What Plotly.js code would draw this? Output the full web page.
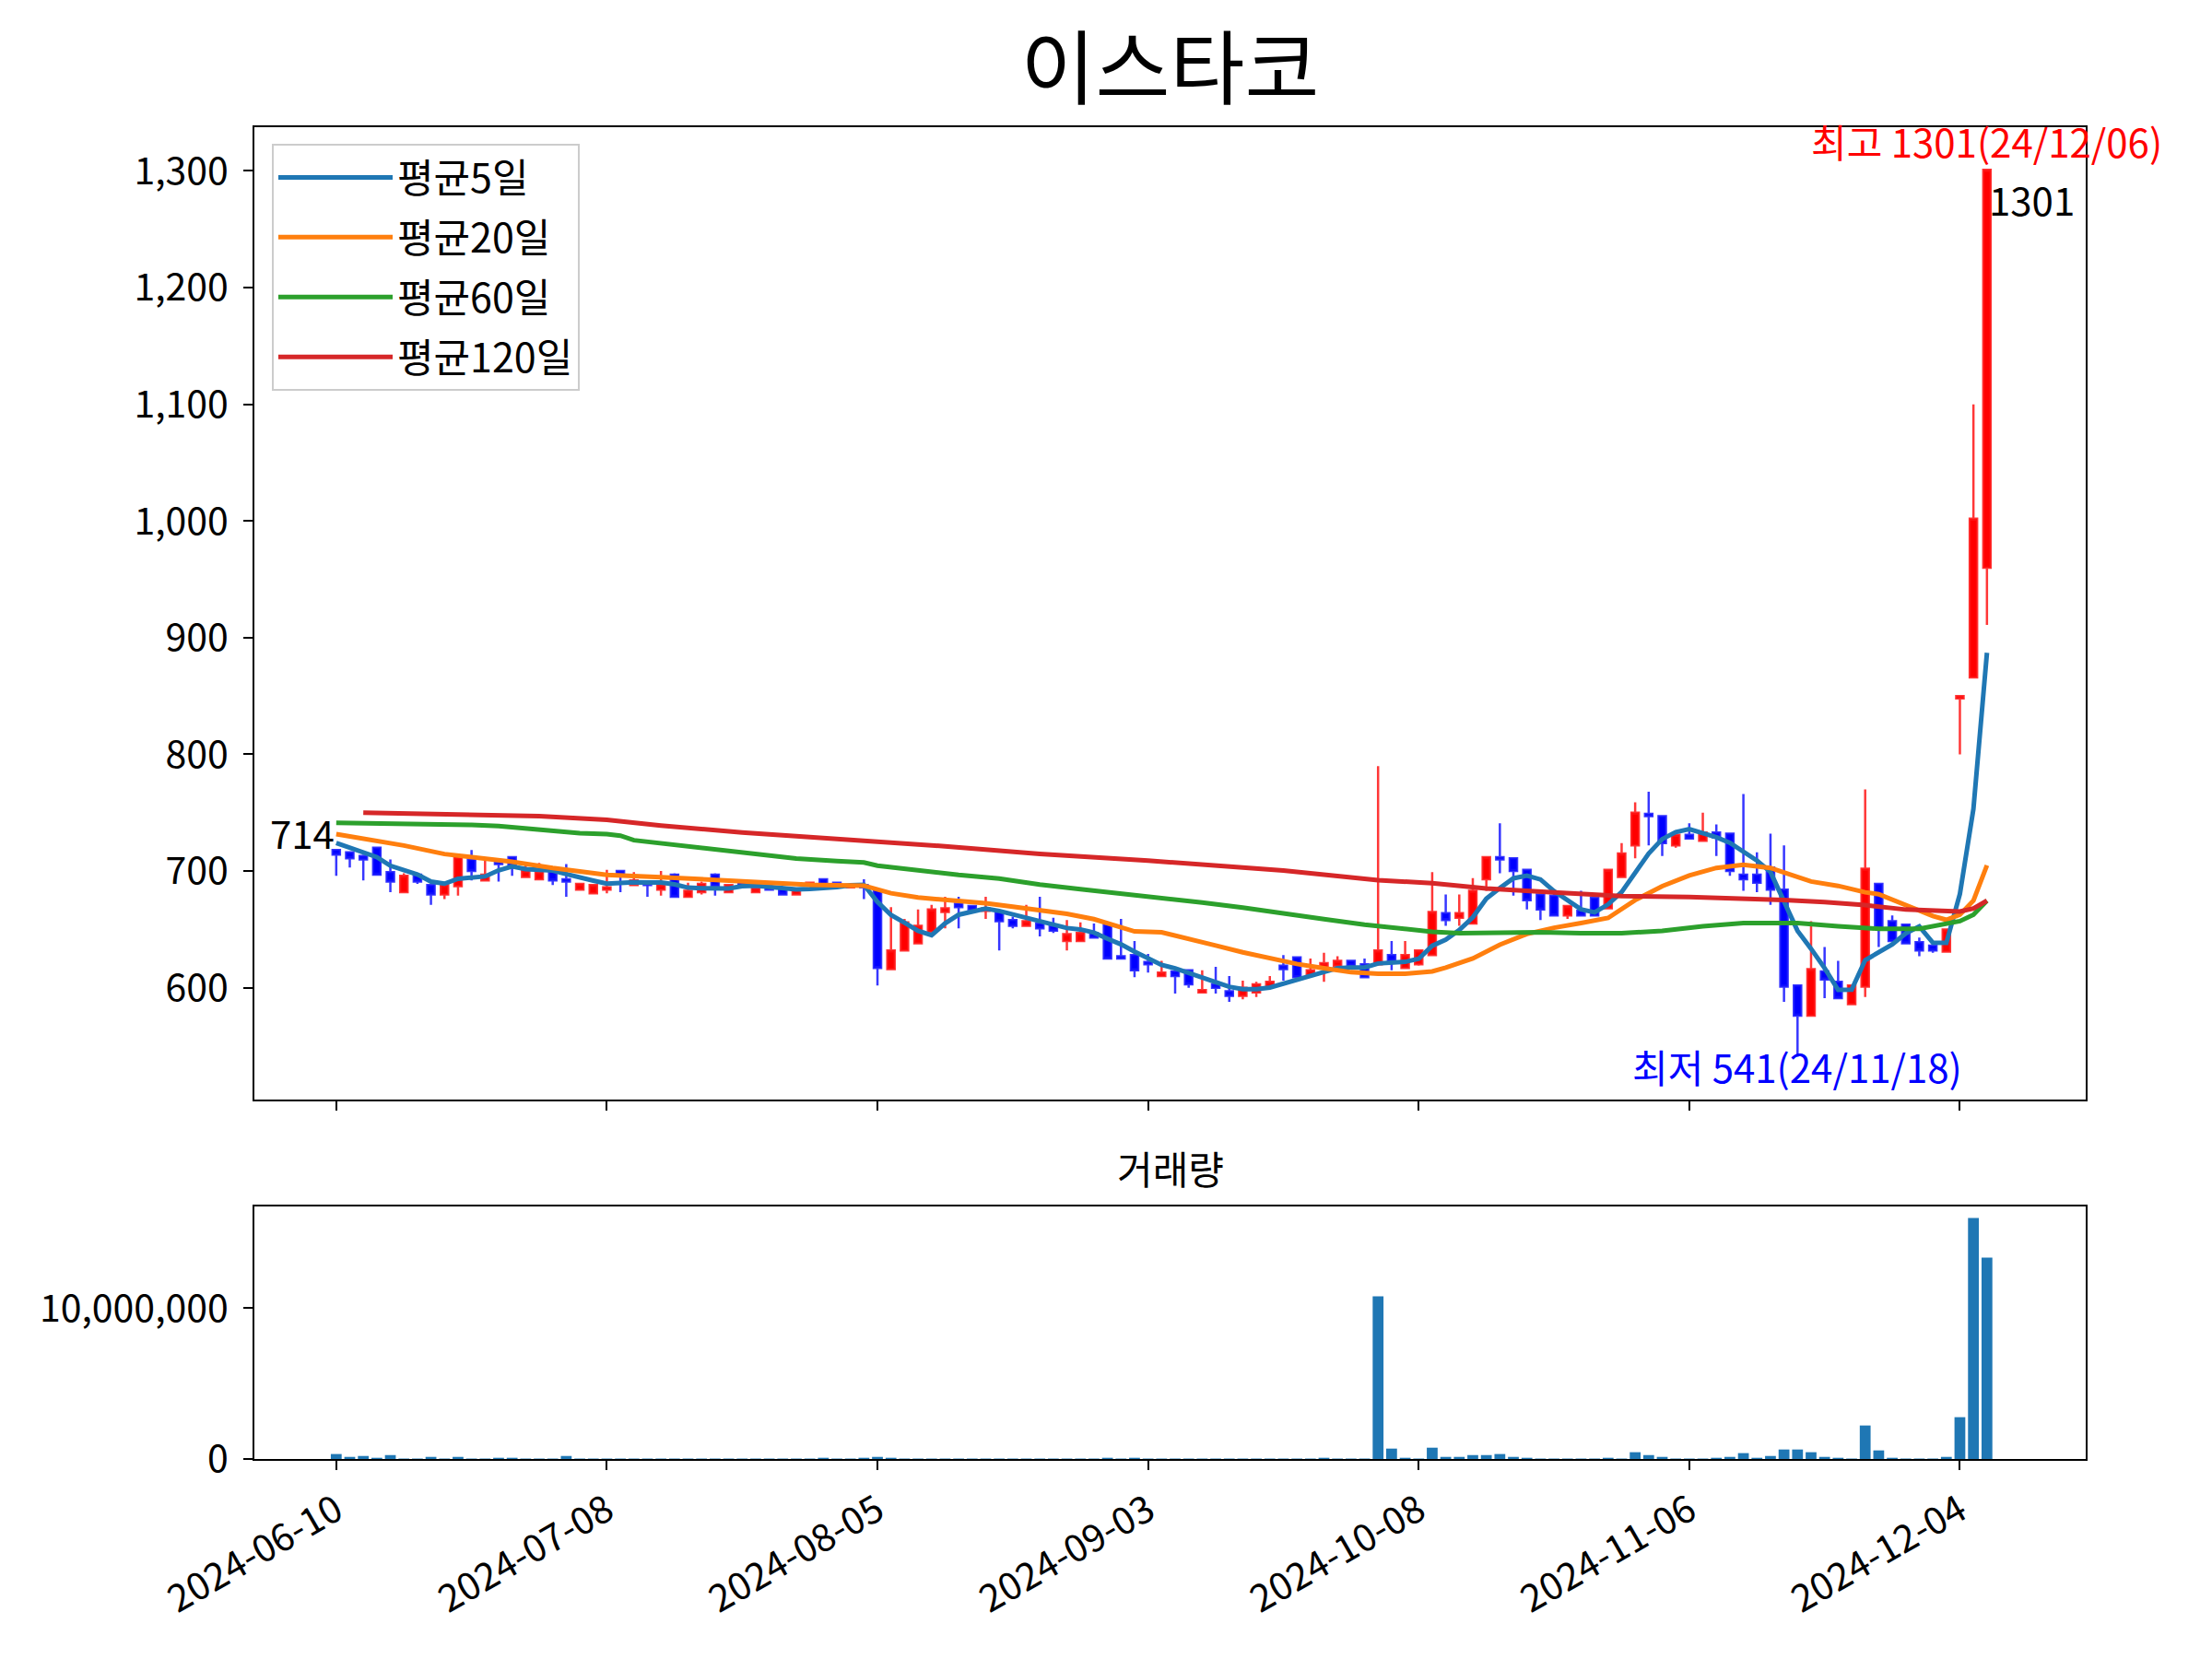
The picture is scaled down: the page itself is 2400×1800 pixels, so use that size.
<!DOCTYPE html>
<html>
<head>
<meta charset="utf-8">
<script src="https://cdn.plot.ly/plotly-3.0.1.min.js"></script>
<style>html,body{margin:0;padding:0;background:#fff;}#chart{width:2400px;height:1800px;}</style>
</head>
<body>
<div id="chart"></div>
<script>
// ---- data ----
const tickIndex = [0, 20, 40, 60, 80, 100, 120];
const tickLabels = ['2024-06-10','2024-07-08','2024-08-05','2024-09-03','2024-10-08','2024-11-06','2024-12-04'];

const open  = [718,716,713,720,699,682,697,688,680,687,710,692,707,712,695,693,700,693,684,681,
               684,700,688,691,684,697,678,682,697,682,690,682,685,685,680,688,693,690,686,688,
               684,616,632,638,648,665,672,670,666,665,658,653,655,653,640,640,647,654,627,628,
               622,610,614,615,596,603,597,593,596,601,619,626,611,618,619,623,620,620,628,617,
               620,628,664,660,655,693,712,711,701,680,679,662,666,677,668,695,722,749,747,722,
               731,726,733,732,697,697,703,684,602,576,614,605,586,601,689,657,654,639,636,631,
               848,866,960];
const high  = [718,717,714,721,710,698,698,689,688,712,718,709,708,713,707,707,701,706,689,688,
               701,701,699,692,700,698,690,691,698,689,691,686,686,686,685,691,694,691,689,693,
               685,669,659,667,671,678,678,671,678,666,661,671,678,660,658,656,655,655,659,640,
               629,623,615,616,615,618,610,606,605,610,628,627,625,630,627,624,625,790,640,640,
               633,699,680,680,694,713,741,712,702,681,683,670,683,678,701,724,759,768,748,731,
               741,750,740,733,766,716,732,722,603,657,635,623,602,770,690,662,655,643,637,651,
               850,1100,1301];
const low   = [696,703,692,697,682,682,689,671,676,679,692,691,691,696,694,692,688,678,683,680,
               681,682,687,678,679,678,677,680,679,681,687,681,683,680,679,687,688,688,685,676,
               602,616,631,638,647,651,651,666,659,632,651,652,644,647,632,639,642,624,624,609,
               613,609,595,600,595,595,588,590,592,600,606,609,610,605,618,618,608,619,615,616,
               619,627,653,653,654,683,698,679,667,658,662,659,662,662,667,694,711,722,713,720,
               728,725,713,696,683,682,671,588,541,575,591,590,585,592,635,639,638,627,630,630,
               800,866,911];
const close = [714,711,710,697,691,696,691,680,688,712,700,697,706,705,700,699,692,691,689,688,
               686,697,692,688,688,678,683,689,687,688,688,685,684,680,684,690,688,689,688,686,
               617,632,656,653,667,668,669,667,668,657,653,657,651,649,646,647,643,625,625,615,
               620,613,610,603,598,600,593,600,603,605,616,609,615,621,623,619,609,632,623,628,
               632,665,658,664,683,712,710,700,675,667,662,670,662,662,701,715,750,747,724,731,
               728,733,729,700,693,690,684,601,576,616,607,591,602,702,651,640,638,632,632,650,
               850,1002,1301];
// closes of the four sessions before the window (set from the start of the 5-day line)
const priorCloses = [731, 725, 722, 728];

const volume = [330000,140000,200000,80000,260000,30000,30000,140000,30000,140000,
                30000,30000,80000,80000,30000,30000,30000,200000,30000,30000,
                30000,30000,30000,30000,30000,30000,30000,30000,30000,30000,
                30000,30000,30000,30000,30000,30000,80000,30000,30000,80000,
                140000,80000,30000,30000,30000,30000,30000,30000,30000,30000,
                30000,30000,30000,30000,30000,30000,30000,80000,30000,80000,
                30000,30000,30000,30000,30000,30000,30000,30000,30000,30000,
                30000,30000,30000,80000,30000,30000,30000,10770000,690000,80000,
                30000,750000,140000,140000,260000,260000,330000,140000,80000,30000,
                30000,30000,30000,30000,80000,30000,450000,260000,140000,30000,
                30000,30000,80000,140000,390000,80000,200000,630000,630000,450000,
                140000,80000,30000,2220000,570000,80000,30000,30000,30000,140000,
                2770000,15970000,13340000];

// longer moving averages (index, value)
const ma20X = [0,3,5,8,10,13,16,20,24,30,35,39,40,41,43,45,48,50,52,54,56,58,59,61,63,65,67,69,71,73,75,77,79,81,82,84,86,88,90,92,94,96,98,100,102,104,106,107,109,111,113,114,116,118,119,120,121,122];
const ma20Y = [731.7,726.4,721.9,714.6,711.9,708,702.7,696.7,694.8,691.5,688.3,687.5,684.4,681,677.3,675.7,672.5,669.4,666.5,663.3,658.8,651.5,648.3,647.5,642.2,636.2,630.4,625.1,620.4,616.7,613.3,612,612,614,617.2,625.1,636.9,646.1,651.4,655.4,659.8,675.1,687,696.2,702.7,705.4,702.7,698.8,691.1,687.3,681.8,680.2,670.8,661.5,658.2,662.6,674.7,704.9];
const ma60X = [0,6,10,12,15,18,20,21,22,24,28,31,34,37,39,40,43,46,49,52,55,58,61,64,67,70,73,76,79,81,83,86,89,92,95,98,101,104,107,108,111,114,117,119,120,121,122];
const ma60Y = [741.4,740.6,739.6,738.5,735.1,732.5,731.7,730.3,726.4,723.8,718.6,714.6,710.7,708.6,707.3,704.6,700.2,696.7,693.6,688.5,684.4,680.9,677.2,673,668.6,663.3,658.8,654.1,650.1,648,646.7,647.5,647.5,646.7,646.7,648.8,652.7,655.4,655.9,655.4,652.7,650.5,650.5,654.3,657.1,662.6,674.6];
const ma120X = [2,10,15,20,24,30,35,39,45,52,60,70,77,81,85,90,95,100,105,107,110,113,116,119,120,121,122];
const ma120Y = [750,748.5,747,744,739,733,729,725.7,721.2,714.6,709,700.5,692.2,689.6,685.1,681.7,678.5,677.7,676.4,675.1,673.5,670.8,667,665.3,665.3,668,674.6];

const seriesNames = ['평균5일','평균20일','평균60일','평균120일'];
const seriesColors = ['#1f77b4','#ff7f0e','#2ca02c','#d62728'];

const titleText = '이스타코';
const volTitle = '거래량';
const highText = '최고 1301(24/12/06)';
const lowText = '최저 541(24/11/18)';
const highIdx = 122, highVal = 1301, lowIdx = 108, lowVal = 541;
const firstLabel = '714', lastLabel = '1301';

// ---- build ----
const idx = close.map((_, i) => i);
const allCloses = priorCloses.concat(close);
const ma5 = close.map((_, i) => {
  const w = allCloses.slice(i, i + 5);
  return w.reduce((a, b) => a + b, 0) / 5;
});

const FONT = 'Noto Sans CJK KR, Noto Sans, sans-serif';
const traces = [];
traces.push({
  type: 'candlestick', x: idx, open: open, high: high, low: low, close: close,
  xaxis: 'x', yaxis: 'y', showlegend: false, hoverinfo: 'skip', whiskerwidth: 0,
  increasing: {line: {color: 'rgba(255,20,20,0.85)', width: 2.5}, fillcolor: '#ff0000'},
  decreasing: {line: {color: 'rgba(20,20,255,0.85)', width: 2.5}, fillcolor: '#0000ff'}
});
const maX = [idx, ma20X, ma60X, ma120X];
const maY = [ma5, ma20Y, ma60Y, ma120Y];
for (let k = 0; k < 4; k++) {
  traces.push({
    type: 'scatter', mode: 'lines', x: maX[k], y: maY[k], name: seriesNames[k],
    legendgroup: 'g' + k,
    line: {color: seriesColors[k], width: 5}, xaxis: 'x', yaxis: 'y', hoverinfo: 'skip'
  });
}
traces.push({
  type: 'bar', x: idx, y: volume, marker: {color: '#1f77b4', line: {width: 0}},
  xaxis: 'x2', yaxis: 'y2', showlegend: false, width: 0.8, hoverinfo: 'skip'
});

const L = 276, R = 2263, T = 138, B = 1583;
const H = B - T;
const axisCommon = {
  showline: true, linecolor: '#000', linewidth: 2, mirror: true, showgrid: false,
  zeroline: false, ticks: 'outside', ticklen: 10, tickwidth: 2, tickcolor: '#000',
  ticklabelstandoff: 8,
  tickfont: {family: FONT, size: 41, color: '#000'}
};
const xr = [-6.05, 129.3];
const layout = {
  width: 2400, height: 1800,
  margin: {l: L, r: 2400 - R, t: T, b: 1800 - B, pad: 0},
  paper_bgcolor: '#fff', plot_bgcolor: '#fff',
  font: {family: FONT, color: '#000'},
  boxgap: 0.22,
  title: {text: titleText, font: {family: FONT, size: 88, color: '#000'},
          x: 0.5, xref: 'paper', xanchor: 'center', y: 1 - 75 / 1800, yanchor: 'middle'},
  showlegend: true,
  legend: {x: (295 - L) / (R - L), y: 1 - (156 - T) / H, xanchor: 'left', yanchor: 'top',
           bgcolor: 'rgba(255,255,255,0.85)', bordercolor: '#cccccc', borderwidth: 2,
           font: {family: FONT, size: 43, color: '#000'}, itemwidth: 124, tracegroupgap: 6,
           traceorder: 'grouped'},
  xaxis: Object.assign({}, axisCommon, {domain: [0, 1], range: xr, anchor: 'y',
          tickvals: tickIndex, ticktext: tickLabels, showticklabels: false,
          rangeslider: {visible: false}}),
  yaxis: Object.assign({}, axisCommon, {domain: [(B - 1192.6) / H, 1], range: [504.5, 1337.5],
          anchor: 'x', tickvals: [600, 700, 800, 900, 1000, 1100, 1200, 1300], tickformat: ',d'}),
  xaxis2: Object.assign({}, axisCommon, {domain: [0, 1], range: xr, anchor: 'y2', matches: 'x',
          tickvals: tickIndex, ticktext: tickLabels, tickangle: -30, ticklabelstandoff: 4}),
  yaxis2: Object.assign({}, axisCommon, {domain: [0, (B - 1309) / H], range: [0, 16.73e6],
          anchor: 'x2', tickvals: [0, 10000000], tickformat: ',d'}),
  annotations: [
    {xref: 'paper', yref: 'paper', x: 0.5, y: (B - 1266) / H, text: volTitle, showarrow: false,
     xanchor: 'center', yanchor: 'middle', font: {family: FONT, size: 42, color: '#000'}},
    {xref: 'x', yref: 'y', x: highIdx, y: highVal, text: highText, showarrow: false,
     xanchor: 'center', yanchor: 'bottom', yshift: -1, font: {family: FONT, size: 42, color: '#ff0000'}},
    {xref: 'x', yref: 'y', x: lowIdx, y: lowVal, text: lowText, showarrow: false,
     xanchor: 'center', yanchor: 'top', yshift: 22, font: {family: FONT, size: 42, color: '#0000ff'}},
    {xref: 'x', yref: 'y', x: 0, y: close[0], text: firstLabel, showarrow: false,
     xanchor: 'right', yanchor: 'bottom', yshift: -8, font: {family: FONT, size: 42, color: '#000'}},
    {xref: 'x', yref: 'y', x: close.length - 1, y: close[close.length - 1], text: lastLabel, showarrow: false,
     xanchor: 'left', yanchor: 'top', yshift: 1, font: {family: FONT, size: 42, color: '#000'}}
  ]
};
Plotly.newPlot('chart', traces, layout, {staticPlot: true, displayModeBar: false});
</script>
</body>
</html>
